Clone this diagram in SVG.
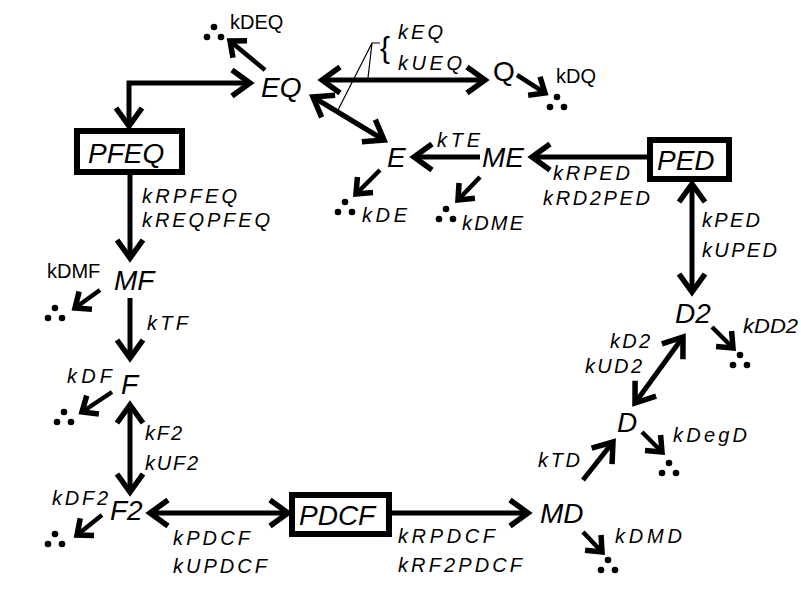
<svg xmlns="http://www.w3.org/2000/svg" width="801" height="602" viewBox="0 0 801 602">
<style>
.node{font-family:"Liberation Sans",Arial,sans-serif;font-size:28px;font-style:italic;fill:#000}
.up{font-style:normal}
.rate{font-family:"Liberation Sans",Arial,sans-serif;font-size:20px;font-style:italic;fill:#000}
.rateu{font-family:"Liberation Sans",Arial,sans-serif;font-size:20px;fill:#000}
.box{fill:#fff;stroke:#000;stroke-width:6}
.c{fill:none;stroke:#000;stroke-width:5}
.big{marker-end:url(#hb)}
.dbl{marker-start:url(#hb);marker-end:url(#hb)}
.sm{stroke-width:4.5;marker-end:url(#hs)}
.thin{fill:none;stroke:#000;stroke-width:1.2}
</style>
<defs>
<marker id="hb" markerUnits="userSpaceOnUse" markerWidth="40" markerHeight="40" viewBox="-30 -20 40 40" refX="0" refY="0" orient="auto-start-reverse" overflow="visible">
<path d="M-18,-13 L0,0 L-18,13" fill="none" stroke="#000" stroke-width="5.5"/>
</marker>
<marker id="hs" markerUnits="userSpaceOnUse" markerWidth="40" markerHeight="40" viewBox="-30 -20 40 40" refX="0" refY="0" orient="auto" overflow="visible">
<path d="M-13,-11 L0,0 L-13,11" fill="none" stroke="#000" stroke-width="5.5"/>
</marker>
<g id="dots"><circle cx="0" cy="0" r="3.3"/><circle cx="-7" cy="10" r="3.3"/><circle cx="7" cy="10" r="3.3"/></g>
</defs>
<rect width="801" height="602" fill="#fff"/>

<g id="connectors">
<path class="c dbl" d="M250,83 L129,83 L129,126"/>
<path class="c dbl" d="M322,80 L485,80"/>
<path class="c dbl" d="M313,97 L384,140"/>
<path class="c sm" d="M265,70 L230,41"/>
<path class="c sm" d="M517,75 L545,93"/>
<path class="c big" d="M480,157 L414,157"/>
<path class="c big" d="M647,157 L532,157"/>
<path class="c sm" d="M380,170 L356,194"/>
<path class="c sm" d="M480,177 L458,200"/>
<path class="c dbl" d="M692,184 L692,292"/>
<path class="c sm" d="M712,327 L733,348"/>
<path class="c dbl" d="M635,403 L683,337"/>
<path class="c sm" d="M642,432 L662,452"/>
<path class="c big" d="M583,480 L613,442"/>
<path class="c big" d="M392,513 L528,513"/>
<path class="c sm" d="M583,532 L602,552"/>
<path class="c dbl" d="M150,513 L288,513"/>
<path class="c sm" d="M102,515 L77,535"/>
<path class="c dbl" d="M130,405 L130,492"/>
<path class="c sm" d="M112,392 L82,412"/>
<path class="c big" d="M130,298 L130,358"/>
<path class="c sm" d="M100,290 L75,308"/>
<path class="c big" d="M130,175 L130,258"/>
<path class="thin" d="M380,43 L372,43 L368,78 M372,43 L338,110"/>
<text class="rate" x="380" y="58" style="font-style:normal;font-size:30px">{</text>
</g>

<g id="labels">
<text class="rateu" x="230" y="29">kDEQ</text>
<text class="rate" x="398" y="39" textLength="45" lengthAdjust="spacing">kEQ</text>
<text class="rate" x="398" y="70" textLength="64" lengthAdjust="spacing">kUEQ</text>
<text class="rateu" x="556" y="83">kDQ</text>
<text class="rate" x="437" y="147" textLength="43" lengthAdjust="spacing">kTE</text>
<text class="rate" x="362" y="222" textLength="45" lengthAdjust="spacing">kDE</text>
<text class="rate" x="462" y="230" textLength="61" lengthAdjust="spacing">kDME</text>
<text class="rate" x="553" y="180" textLength="77" lengthAdjust="spacing">kRPED</text>
<text class="rate" x="543" y="205" textLength="107" lengthAdjust="spacing">kRD2PED</text>
<text class="rate" x="702" y="227" textLength="58" lengthAdjust="spacing">kPED</text>
<text class="rate" x="702" y="257" textLength="75" lengthAdjust="spacing">kUPED</text>
<text class="rate" x="743" y="333" textLength="55" lengthAdjust="spacingAndGlyphs">kDD2</text>
<text class="rate" x="610" y="348" textLength="40" lengthAdjust="spacing">kD2</text>
<text class="rate" x="585" y="373" textLength="57" lengthAdjust="spacing">kUD2</text>
<text class="rate" x="673" y="442" textLength="74" lengthAdjust="spacing">kDegD</text>
<text class="rate" x="538" y="467" textLength="42" lengthAdjust="spacing">kTD</text>
<text class="rate" x="615" y="543" textLength="67" lengthAdjust="spacing">kDMD</text>
<text class="rate" x="398" y="543" textLength="97" lengthAdjust="spacing">kRPDCF</text>
<text class="rate" x="398" y="572" textLength="124" lengthAdjust="spacing">kRF2PDCF</text>
<text class="rate" x="173" y="545" textLength="77" lengthAdjust="spacing">kPDCF</text>
<text class="rate" x="173" y="573" textLength="94" lengthAdjust="spacing">kUPDCF</text>
<text class="rate" x="52" y="505" textLength="56" lengthAdjust="spacing">kDF2</text>
<text class="rate" x="145" y="440" textLength="37" lengthAdjust="spacing">kF2</text>
<text class="rate" x="145" y="470" textLength="53" lengthAdjust="spacing">kUF2</text>
<text class="rate" x="67" y="383" textLength="45" lengthAdjust="spacing">kDF</text>
<text class="rate" x="147" y="330" textLength="41" lengthAdjust="spacing">kTF</text>
<text class="rateu" x="47" y="278">kDMF</text>
<text class="rate" x="142" y="203" textLength="95" lengthAdjust="spacing">kRPFEQ</text>
<text class="rate" x="142" y="227" textLength="128" lengthAdjust="spacing">kREQPFEQ</text>
</g>

<g id="sinks">
<use href="#dots" x="214" y="27"/>
<use href="#dots" x="557" y="97"/>
<use href="#dots" x="345" y="202"/>
<use href="#dots" x="446" y="209"/>
<use href="#dots" x="740" y="355"/>
<use href="#dots" x="669" y="463"/>
<use href="#dots" x="608" y="560"/>
<use href="#dots" x="55" y="534"/>
<use href="#dots" x="64" y="412"/>
<use href="#dots" x="55" y="308"/>
</g>

<g id="EQ"><text class="node" x="261" y="97">EQ</text></g>
<g id="Q"><text class="node up" x="493" y="81">Q</text></g>
<g id="E"><text class="node" x="387" y="167">E</text></g>
<g id="ME"><text class="node" x="482" y="167">ME</text></g>
<g id="PED"><rect class="box" x="650" y="140" width="79" height="39"/><text class="node" x="657" y="170">PED</text></g>
<g id="PFEQ"><rect class="box" x="77" y="131" width="105" height="41"/><text class="node" x="88" y="163">PFEQ</text></g>
<g id="MF"><text class="node" x="114" y="290">MF</text></g>
<g id="F"><text class="node" x="121" y="394">F</text></g>
<g id="F2"><text class="node" x="110" y="520">F2</text></g>
<g id="PDCF"><rect class="box" x="292" y="495" width="97" height="39"/><text class="node" x="299" y="525">PDCF</text></g>
<g id="MD"><text class="node" x="540" y="523">MD</text></g>
<g id="D"><text class="node" x="617" y="432">D</text></g>
<g id="D2"><text class="node" x="675" y="323">D2</text></g>
</svg>
